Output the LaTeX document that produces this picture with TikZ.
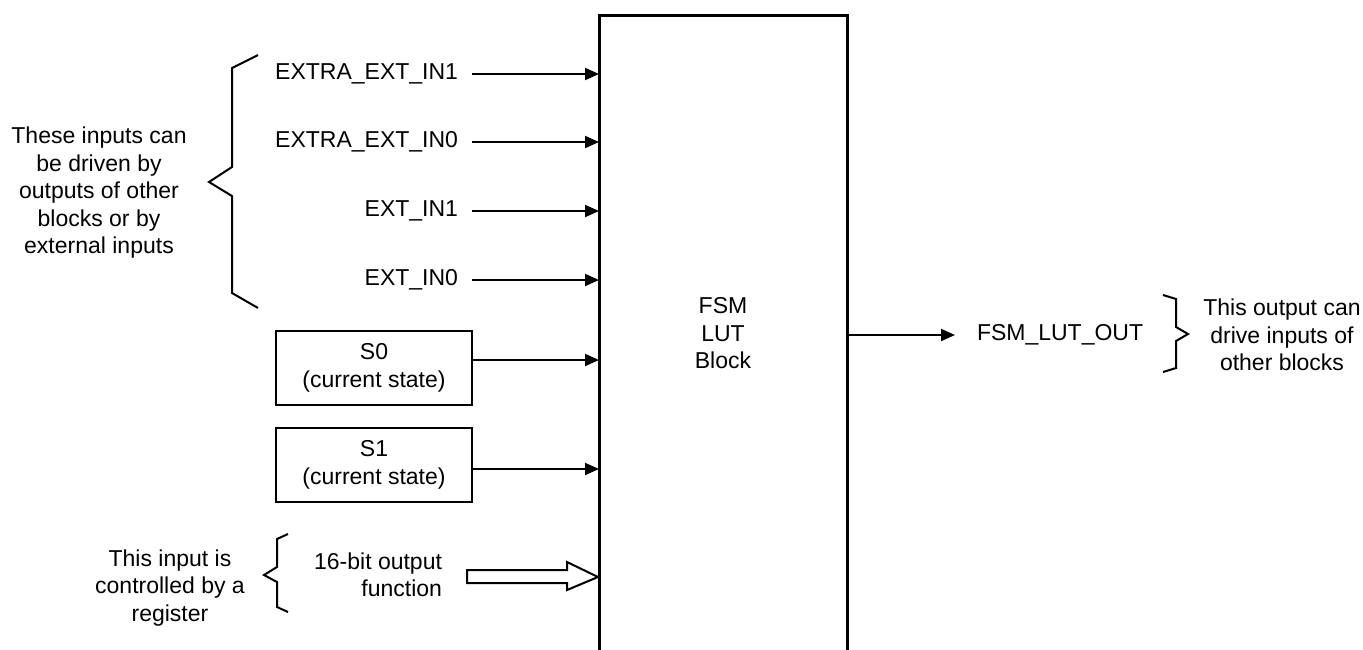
\documentclass[tikz,border=0pt]{standalone}
\usepackage{fontspec}
\setmainfont{Liberation Sans}
\usetikzlibrary{arrows.meta}
\begin{document}
\begin{tikzpicture}[x=1pt,y=-1pt,
  txt/.style={font=\fontsize{23}{27.5}\selectfont, inner sep=0pt, outer sep=0pt},
  lbl/.style={txt, inner xsep=14pt},
  arr/.style={line width=2pt, -{Triangle[length=14pt,width=12pt]}},
  brace/.style={line width=2pt, line join=miter},
  sbox/.style={txt, draw, line width=2pt, minimum width=196pt, minimum height=74pt, align=center},
  hollow/.style={line width=2pt, line join=miter}
]
\useasboundingbox (0,0) rectangle (1363,649);

% main block (open at the bottom)
\node[txt, minimum width=248pt, minimum height=637pt, align=center] (blk) at (723,333.5) {FSM\\LUT\\Block};
\draw[line width=3pt, line join=miter] (blk.south west) -- (blk.north west) -- (blk.north east) -- (blk.south east);

% external inputs
\node[lbl, anchor=east] (in1) at (472,74) {EXTRA\_EXT\_IN1};
\node[lbl, anchor=east] (in2) at (472,142) {EXTRA\_EXT\_IN0};
\node[lbl, anchor=east] (in3) at (472,211) {EXT\_IN1};
\node[lbl, anchor=east] (in4) at (472,280) {EXT\_IN0};
\foreach \n in {in1,in2,in3,in4}
  \draw[arr] (\n.east) -- (\n.east -| blk.west);

% left brace and note
\draw[brace] (258,55) -- (232,68) -- (232,167) -- (209,182) -- (232,196) -- (232,293) -- (258,308);
\node[txt, align=center] (note1) at (99,193) {These inputs can\\be driven by\\outputs of other\\blocks or by\\external inputs};

% state boxes
\node[sbox] (s0) at (374,368) {S0\\(current state)};
\node[sbox] (s1) at (374,465) {S1\\(current state)};
\draw[arr] ([yshift=8pt]s0.east) -- ([yshift=8pt]s0.east -| blk.west);
\draw[arr] ([yshift=-4pt]s1.east) -- ([yshift=-4pt]s1.east -| blk.west);

% 16-bit output function
\node[txt, align=right, anchor=east] (fn) at (442,575) {16-bit output\\function};
\draw[hollow] (467,570) -- (567,570) -- (567,562) -- (598,577) -- (567,590) -- (567,583) -- (467,583) -- cycle;
\draw[brace] (288,534) -- (277,539) -- (277,567) -- (264,575) -- (277,582) -- (277,607) -- (288,612);
\node[txt, align=center] (note3) at (170,588) {This input is\\controlled by a\\register};

% output
\node[txt, inner xsep=22pt, anchor=west] (out) at (955,335) {FSM\_LUT\_OUT};
\draw[arr] (out.west -| blk.east) -- (out.west);
\draw[brace] (1163,295) -- (1176,299) -- (1176,327) -- (1188,334) -- (1176,341) -- (1176,368) -- (1163,372);
\node[txt, align=center] (note2) at (1282,335) {This output can\\drive inputs of\\other blocks};
\end{tikzpicture}
\end{document}
